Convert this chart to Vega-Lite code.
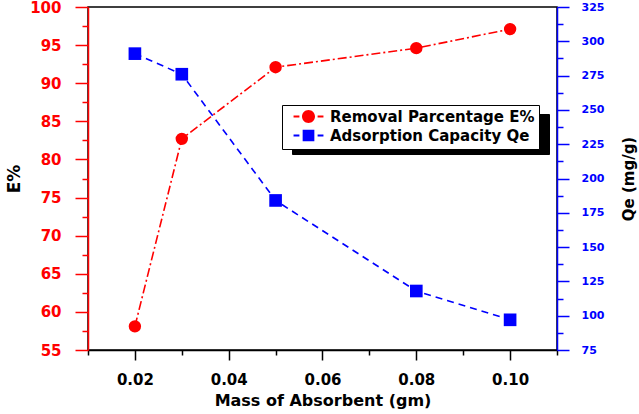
{
  "$schema": "https://vega.github.io/schema/vega-lite/v6.json",
  "width": 469,
  "height": 343,
  "autosize": {"type": "none"},
  "padding": {"left": 88, "top": 7, "right": 82, "bottom": 64},
  "background": "white",
  "view": {"stroke": "black", "strokeWidth": 1.5},
  "config": {
    "font": "DejaVu Sans",
    "axis": {"grid": false, "labelFont": "DejaVu Sans", "labelFontWeight": "bold", "titleFont": "DejaVu Sans", "titleFontWeight": "bold", "titleColor": "black", "domainWidth": 1.5, "tickWidth": 1.5},
    "legend": {"labelFont": "DejaVu Sans", "labelFontWeight": "bold", "labelLimit": 400}
  },
  "datasets": {
    "main": [
      {"mass": 0.02, "E": 58.1, "Qe": 291},
      {"mass": 0.03, "E": 82.7, "Qe": 276},
      {"mass": 0.05, "E": 92.1, "Qe": 184},
      {"mass": 0.08, "E": 94.6, "Qe": 118},
      {"mass": 0.10, "E": 97.1, "Qe": 97}
    ],
    "legend": [
      {"series": "Removal Parcentage E%", "shadow": "Removal Parcentage E%"},
      {"series": "Adsorption Capacity Qe", "shadow": "Adsorption Capacity Qe"}
    ]
  },
  "resolve": {"scale": {"y": "independent"}},
  "layer": [
    {
      "data": {"name": "main"},
      "encoding": {
        "x": {
          "field": "mass", "type": "quantitative",
          "scale": {"domain": [0.01, 0.11], "nice": false, "zero": false},
          "axis": {
            "values": [0.01, 0.02, 0.03, 0.04, 0.05, 0.06, 0.07, 0.08, 0.09, 0.10, 0.11],
            "labelExpr": "round(datum.value*100) % 2 === 0 ? format(datum.value, '.2f') : ''",
            "tickSize": {"condition": {"test": "round(datum.value*100) % 2 === 0", "value": 10}, "value": 5},
            "labelFontSize": 15, "labelColor": "black", "labelPadding": 12,
            "domainColor": "black", "tickColor": "black",
            "title": "Mass of Absorbent (gm)", "titleFontSize": 16, "titlePadding": 5
          }
        },
        "y": {
          "field": "E", "type": "quantitative",
          "scale": {"domain": [55, 100], "nice": false, "zero": false},
          "axis": {
            "orient": "left",
            "values": [55, 57.5, 60, 62.5, 65, 67.5, 70, 72.5, 75, 77.5, 80, 82.5, 85, 87.5, 90, 92.5, 95, 97.5, 100],
            "labelExpr": "datum.value % 5 === 0 ? datum.label : ''",
            "tickSize": {"condition": {"test": "datum.value % 5 === 0", "value": 13}, "value": 6},
            "labelFontSize": 15, "labelColor": "#ff0000", "labelPadding": 14,
            "domainColor": "#ff0000", "tickColor": "#ff0000",
            "title": "E%", "titleFontSize": 17, "titlePadding": 6
          }
        }
      },
      "layer": [
        {"mark": {"type": "line", "color": "#ff0000", "strokeWidth": 1.6, "strokeDash": [9, 3, 2, 3]}},
        {"mark": {"type": "point", "shape": "circle", "filled": true, "color": "#ff0000", "opacity": 1, "size": 154}}
      ]
    },
    {
      "data": {"name": "main"},
      "encoding": {
        "x": {"field": "mass", "type": "quantitative"},
        "y": {
          "field": "Qe", "type": "quantitative",
          "scale": {"domain": [75, 325], "nice": false, "zero": false},
          "axis": {
            "orient": "right",
            "values": [75, 87.5, 100, 112.5, 125, 137.5, 150, 162.5, 175, 187.5, 200, 212.5, 225, 237.5, 250, 262.5, 275, 287.5, 300, 312.5, 325],
            "labelExpr": "datum.value % 25 === 0 ? datum.label : ''",
            "tickSize": {"condition": {"test": "datum.value % 25 === 0", "value": 12}, "value": 6},
            "labelFontSize": 11, "labelColor": "#0000ff", "labelPadding": 12,
            "domainColor": "#0000ff", "tickColor": "#0000ff",
            "title": "Qe (mg/g)", "titleFontSize": 15, "titleAngle": 270, "titlePadding": 33
          }
        }
      },
      "layer": [
        {"mark": {"type": "line", "color": "#0000ff", "strokeWidth": 1.6, "strokeDash": [7, 5]}},
        {"mark": {"type": "point", "shape": "square", "filled": true, "color": "#0000ff", "opacity": 1, "size": 160}}
      ]
    },
    {
      "data": {"name": "legend"},
      "transform": [{"filter": "false"}],
      "mark": {"type": "point", "filled": true, "opacity": 1},
      "encoding": {
        "strokeDash": {
          "field": "shadow", "type": "nominal",
          "scale": {"domain": ["Adsorption Capacity Qe", "Removal Parcentage E%"]},
          "legend": {
            "orient": "none", "legendX": 204, "legendY": 107, "title": null,
            "fillColor": "black", "strokeColor": "black", "padding": 4, "rowPadding": 0,
            "symbolSize": 169, "symbolOpacity": 0, "symbolOffset": 15, "labelOffset": 14,
            "labelFontSize": 15, "labelOpacity": 0, "zindex": 1
          }
        }
      }
    },
    {
      "data": {"name": "legend"},
      "transform": [{"filter": "false"}],
      "mark": {"type": "point", "filled": true, "opacity": 1},
      "encoding": {
        "color": {
          "field": "series", "type": "nominal",
          "scale": {"domain": ["Removal Parcentage E%", "Adsorption Capacity Qe"], "range": ["#ff0000", "#0000ff"]},
          "legend": {
            "orient": "none", "legendX": 194, "legendY": 98, "title": null,
            "fillColor": "white", "strokeColor": "black", "padding": 4, "rowPadding": 0,
            "symbolSize": 169, "symbolOpacity": 1, "symbolOffset": 15, "labelOffset": 14,
            "labelFontSize": 15, "labelColor": "black", "zindex": 2
          }
        },
        "shape": {
          "field": "series", "type": "nominal",
          "scale": {
            "domain": ["Removal Parcentage E%", "Adsorption Capacity Qe"],
            "range": [
              "M -1 0 A 1 1 0 1 0 1 0 A 1 1 0 1 0 -1 0 Z M -2.3 -0.15 H -1.4 V 0.15 H -2.3 Z M 1.4 -0.15 H 2.3 V 0.15 H 1.4 Z",
              "M -0.9 -0.9 H 0.9 V 0.9 H -0.9 Z M -2.3 -0.15 H -1.4 V 0.15 H -2.3 Z M 1.4 -0.15 H 2.3 V 0.15 H 1.4 Z"
            ]
          }
        }
      }
    }
  ]
}
